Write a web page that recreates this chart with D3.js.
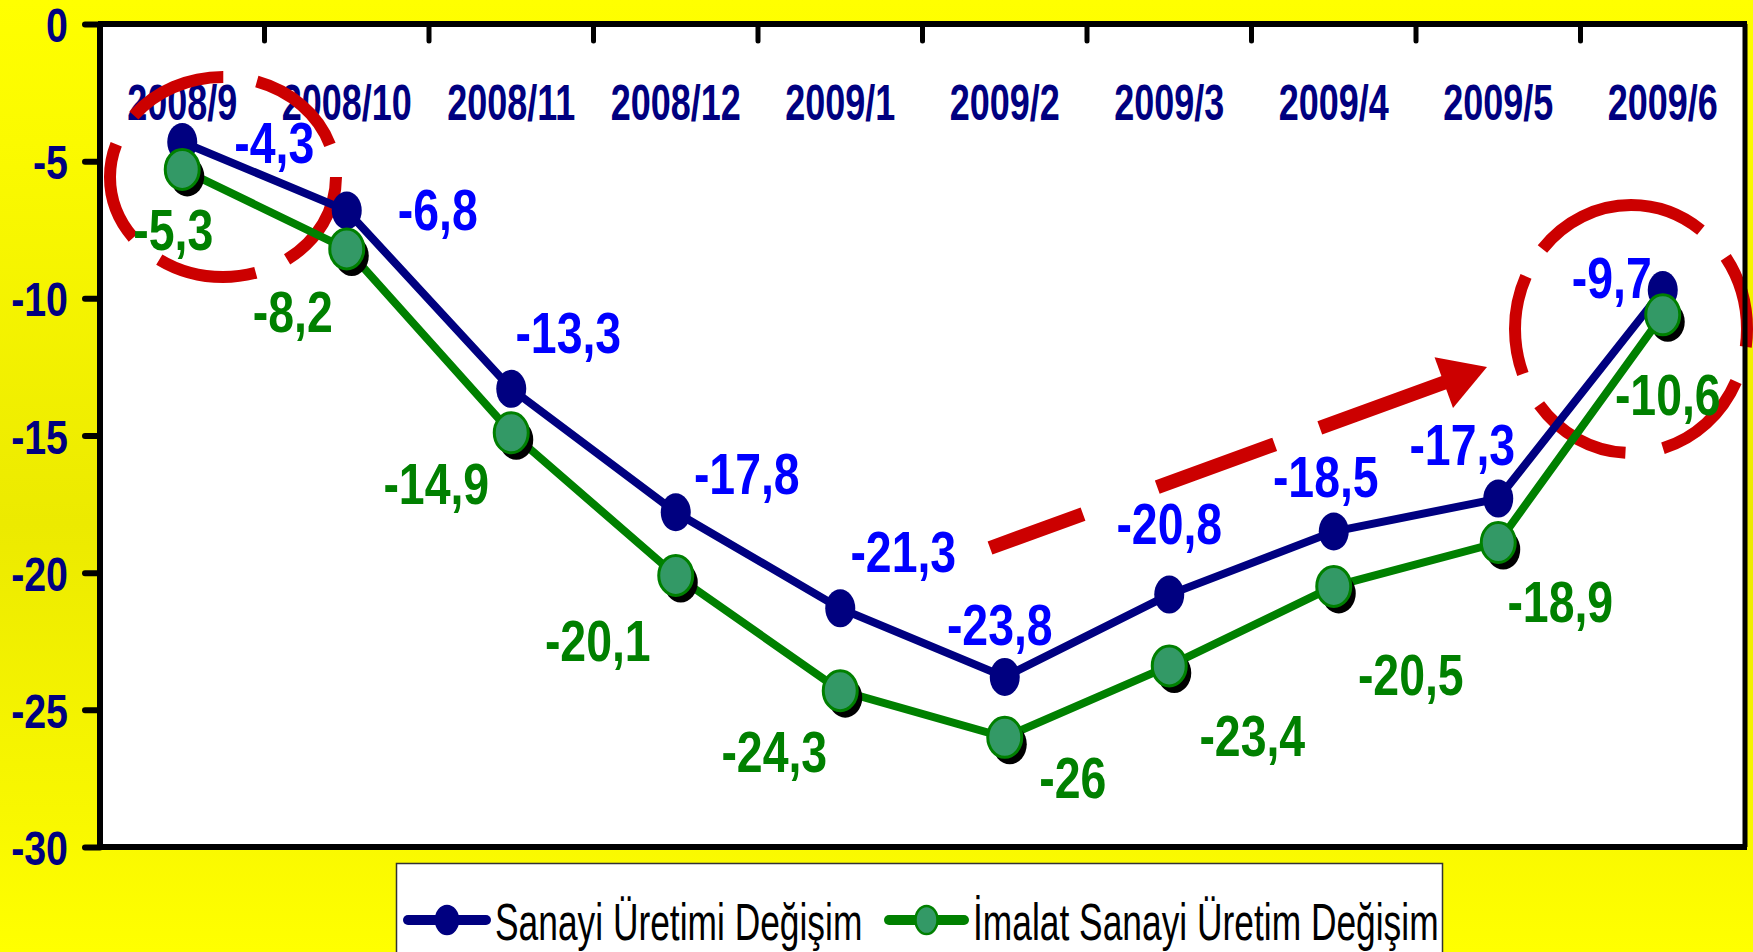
<!DOCTYPE html>
<html>
<head>
<meta charset="utf-8">
<script src="https://cdn.jsdelivr.net/npm/d3@7"></script>
<style>
body { margin: 0; overflow: hidden; }
text { font-family: "Liberation Sans", Arial, sans-serif; }
</style>
</head>
<body>
<svg></svg>
<script>
var WIDTH = 1753;
var HEIGHT = 952;

var months = ['2008/9', '2008/10', '2008/11', '2008/12', '2009/1', '2009/2', '2009/3', '2009/4', '2009/5', '2009/6'];
var sanayi = [-4.3, -6.8, -13.3, -17.8, -21.3, -23.8, -20.8, -18.5, -17.3, -9.7];
var imalat = [-5.3, -8.2, -14.9, -20.1, -24.3, -26, -23.4, -20.5, -18.9, -10.6];
var yTicks = [0, -5, -10, -15, -20, -25, -30];
var seriesNames = ['Sanayi Üretimi Değişim', 'İmalat Sanayi Üretim Değişim'];

// where each value label sits, relative to its point (px)
var sanayiLabelOffsets = [[92, 0], [91, -2], [57, -57], [71, -39], [63, -57], [-5, -53], [0, -72], [-8, -56], [-36, -55], [-51, -13]];
var imalatLabelOffsets = [[-9, 60], [-54, 62], [-75, 50], [-78, 65], [-66, 60], [68, 40], [83, 69], [77, 88], [62, 59], [5, 79]];

var plot = { left: 100, right: 1745, top: 24, bottom: 847 };

var svg = d3.select('svg')
    .attr('width', WIDTH)
    .attr('height', HEIGHT);

var defs = svg.append('defs');
var grad = defs.append('linearGradient').attr('id', 'bg').attr('x1', 0).attr('y1', 0).attr('x2', 0).attr('y2', 1);
grad.append('stop').attr('offset', '0%').attr('stop-color', '#ffff00');
grad.append('stop').attr('offset', '15%').attr('stop-color', '#fbfa00');
grad.append('stop').attr('offset', '55%').attr('stop-color', '#ecea00');
grad.append('stop').attr('offset', '85%').attr('stop-color', '#f8f700');
grad.append('stop').attr('offset', '100%').attr('stop-color', '#ffff00');

svg.append('rect').attr('width', WIDTH).attr('height', HEIGHT).attr('fill', 'url(#bg)');
svg.append('rect')
    .attr('x', plot.left).attr('y', plot.top)
    .attr('width', plot.right - plot.left).attr('height', plot.bottom - plot.top)
    .attr('fill', '#fff');

var x = d3.scaleBand().domain(months).range([plot.left, plot.right]).paddingInner(0).paddingOuter(0);
var y = d3.scaleLinear().domain([-30, 0]).range([plot.bottom, plot.top]);
function xc(m) { return x(m) + x.bandwidth() / 2; }

// text squeezed horizontally, like the original
function squeezed(g, px, py, str, size, sx, anchor, weight, fill) {
    return g.append('text')
        .attr('transform', 'translate(' + px + ',' + py + ') scale(' + sx + ',1)')
        .attr('text-anchor', anchor)
        .attr('font-size', size)
        .attr('font-weight', weight)
        .attr('fill', fill)
        .text(str);
}

// y axis
var yAxis = svg.append('g')
    .attr('transform', 'translate(' + plot.left + ',0)')
    .call(d3.axisLeft(y).tickValues(yTicks).tickSize(15).tickFormat(''));
yAxis.select('.domain').remove();
yAxis.selectAll('line').attr('stroke', '#000').attr('stroke-width', 6).attr('stroke-linecap', 'round');
yTicks.forEach(function(t) {
    squeezed(svg, 68, y(t) + 18, String(t), 48, 0.82, 'end', 'bold', '#000080');
});

// category ticks along the top (between months)
months.slice(1).forEach(function(m) {
    svg.append('line')
        .attr('x1', x(m)).attr('x2', x(m))
        .attr('y1', plot.top).attr('y2', plot.top + 17)
        .attr('stroke', '#000').attr('stroke-width', 5).attr('stroke-linecap', 'round');
});
months.forEach(function(m) {
    squeezed(svg, xc(m), 120, m, 50, 0.72, 'middle', 'bold', '#000080');
});

// red annotations
var ann = svg.append('g').attr('fill', 'none').attr('stroke', '#cc0000').attr('stroke-width', 12);
ann.append('ellipse')
    .attr('cx', 223).attr('cy', 177).attr('rx', 113).attr('ry', 100)
    .attr('stroke-dasharray', '100 34');
ann.append('ellipse')
    .attr('cx', 1631).attr('cy', 329).attr('rx', 116).attr('ry', 124)
    .attr('stroke-dasharray', '18 36 102 38 102 35 100 32 178 37 77');
var a0 = [990, 548], tip = [1487, 367];
var dx = tip[0] - a0[0], dy = tip[1] - a0[1], len = Math.sqrt(dx * dx + dy * dy);
var ux = dx / len, uy = dy / len;
var base = [tip[0] - 46 * ux, tip[1] - 46 * uy];
ann.append('line')
    .attr('x1', a0[0]).attr('y1', a0[1]).attr('x2', base[0] + 4 * ux).attr('y2', base[1] + 4 * uy)
    .attr('stroke-width', 14)
    .attr('stroke-dasharray', '99 79 125 48 400');
ann.append('path')
    .attr('stroke', 'none').attr('fill', '#cc0000')
    .attr('d', 'M' + tip[0] + ',' + tip[1] +
        'L' + (base[0] - 27 * uy) + ',' + (base[1] + 27 * ux) +
        'L' + (base[0] + 27 * uy) + ',' + (base[1] - 27 * ux) + 'Z');

// plot frame
svg.append('line').attr('x1', plot.left - 2).attr('x2', plot.right + 2).attr('y1', plot.top).attr('y2', plot.top)
    .attr('stroke', '#000').attr('stroke-width', 6);
svg.append('line').attr('x1', plot.left - 2).attr('x2', plot.right + 2).attr('y1', plot.bottom).attr('y2', plot.bottom)
    .attr('stroke', '#000').attr('stroke-width', 6);
svg.append('line').attr('x1', plot.left).attr('x2', plot.left).attr('y1', plot.top).attr('y2', plot.bottom)
    .attr('stroke', '#000').attr('stroke-width', 6);
svg.append('line').attr('x1', plot.right).attr('x2', plot.right).attr('y1', plot.top).attr('y2', plot.bottom)
    .attr('stroke', '#000').attr('stroke-width', 5);

var line = d3.line()
    .x(function(d, i) { return xc(months[i]); })
    .y(function(d) { return y(d); });

// Sanayi series
svg.append('path').datum(sanayi)
    .attr('d', line).attr('fill', 'none').attr('stroke', '#000080').attr('stroke-width', 8);
svg.append('g').selectAll('ellipse').data(sanayi).enter().append('ellipse')
    .attr('cx', function(d, i) { return xc(months[i]); })
    .attr('cy', function(d) { return y(d); })
    .attr('rx', 15).attr('ry', 19)
    .attr('fill', '#000080');

// Imalat series
svg.append('path').datum(imalat)
    .attr('d', line).attr('fill', 'none').attr('stroke', '#008000').attr('stroke-width', 8);
svg.append('g').selectAll('ellipse').data(imalat).enter().append('ellipse')
    .attr('cx', function(d, i) { return xc(months[i]) + 5; })
    .attr('cy', function(d) { return y(d) + 7; })
    .attr('rx', 17).attr('ry', 20)
    .attr('fill', '#000');
svg.append('g').selectAll('ellipse').data(imalat).enter().append('ellipse')
    .attr('cx', function(d, i) { return xc(months[i]); })
    .attr('cy', function(d) { return y(d); })
    .attr('rx', 17).attr('ry', 20)
    .attr('fill', '#339966').attr('stroke', '#008000').attr('stroke-width', 3);

// value labels
function fmt(v) { return String(v).replace('.', ','); }
sanayi.forEach(function(v, i) {
    squeezed(svg, xc(months[i]) + sanayiLabelOffsets[i][0], y(v) + sanayiLabelOffsets[i][1] + 21,
        fmt(v), 58, 0.8, 'middle', 'bold', '#0000ff');
});
imalat.forEach(function(v, i) {
    squeezed(svg, xc(months[i]) + imalatLabelOffsets[i][0], y(v) + imalatLabelOffsets[i][1] + 21,
        fmt(v), 58, 0.8, 'middle', 'bold', '#008000');
});

// legend
var legend = svg.append('g');
legend.append('rect')
    .attr('x', 396.5).attr('y', 863.5).attr('width', 1046).attr('height', 120)
    .attr('fill', '#fff').attr('stroke', '#333').attr('stroke-width', 1.5);
var legendItems = [
    { name: seriesNames[0], x0: 408, x1: 486, text: 495, color: '#000080', fill: '#000080' },
    { name: seriesNames[1], x0: 889, x1: 964, text: 973, color: '#008000', fill: '#339966' }
];
legendItems.forEach(function(it) {
    legend.append('line')
        .attr('x1', it.x0).attr('x2', it.x1).attr('y1', 920).attr('y2', 920)
        .attr('stroke', it.color).attr('stroke-width', 10).attr('stroke-linecap', 'round');
    legend.append('ellipse')
        .attr('cx', (it.x0 + it.x1) / 2).attr('cy', 920).attr('rx', 11).attr('ry', 14)
        .attr('fill', it.fill).attr('stroke', it.color).attr('stroke-width', 2.5);
    squeezed(legend, it.text, 940, it.name, 52, 0.68, 'start', 'normal', '#000');
});
</script>
</body>
</html>
